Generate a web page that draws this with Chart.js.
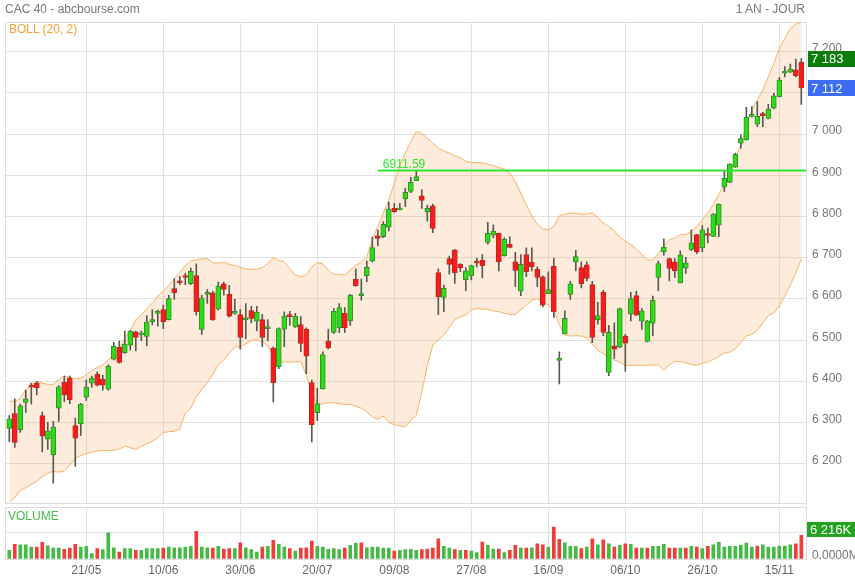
<!DOCTYPE html>
<html><head><meta charset="utf-8">
<script src="https://cdn.jsdelivr.net/npm/chart.js@4"></script>
<style>
body{margin:0;background:#fff;width:855px;height:580px;overflow:hidden;position:relative;font-family:"Liberation Sans",Arial,sans-serif}
.w{position:absolute;left:0}
.t{position:absolute;font-size:12px;line-height:14px;white-space:nowrap;z-index:5}
</style></head><body>
<div class="w" style="top:0;width:855px;height:505px"><canvas id="c1" width="855" height="505"></canvas></div>
<div class="w" style="top:505px;width:855px;height:75px"><canvas id="c2" width="855" height="75"></canvas></div>
<div class="t" style="left:5px;top:2px;color:#777">CAC 40 - abcbourse.com</div>
<div class="t" style="right:50px;top:2px;color:#777">1 AN - JOUR</div>
<div class="t" style="left:9px;top:22px;color:#f5a030">BOLL (20, 2)</div>
<div class="t" style="left:8px;top:509px;color:#44bb44">VOLUME</div>
<script>
const dates = ["03/05","04/05","05/05","06/05","07/05","10/05","11/05","12/05","13/05","14/05","17/05","18/05","19/05","20/05","21/05","24/05","25/05","26/05","27/05","28/05","31/05",
"01/06","02/06","03/06","04/06","07/06","08/06","09/06","10/06","11/06","14/06","15/06","16/06","17/06","18/06","21/06","22/06","23/06","24/06","25/06","28/06","29/06","30/06",
"01/07","02/07","05/07","06/07","07/07","08/07","09/07","12/07","13/07","14/07","15/07","16/07","19/07","20/07","21/07","22/07","23/07","26/07","27/07","28/07","29/07","30/07",
"02/08","03/08","04/08","05/08","06/08","09/08","10/08","11/08","12/08","13/08","16/08","17/08","18/08","19/08","20/08","23/08","24/08","25/08","26/08","27/08","30/08","31/08",
"01/09","02/09","03/09","06/09","07/09","08/09","09/09","10/09","13/09","14/09","15/09","16/09","17/09","20/09","21/09","22/09","23/09","24/09","27/09","28/09","29/09","30/09",
"01/10","04/10","05/10","06/10","07/10","08/10","11/10","12/10","13/10","14/10","15/10","18/10","19/10","20/10","21/10","22/10","25/10","26/10","27/10","28/10","29/10",
"01/11","02/11","03/11","04/11","05/11","08/11","09/11","10/11","11/11","12/11","15/11","16/11","17/11","18/11","19/11"];
const tickIdx = [14,28,42,56,70,84,98,112,126,140];

const openP = [6286,6322,6283,6349,6390,6396,6317,6260,6222,6335,6398,6408,6293,6297,6362,6396,6417,6405,6381,6454,6483,6470,6488,6520,
6513,6509,6545,6565,6574,6550,6625,6643,6657,6637,6657,6526,6611,6615,6576,6637,6611,6565,6562,6550,6572,6546,6550,6528,
6481,6435,6527,6562,6532,6538,6527,6397,6324,6382,6498,6519,6530,6565,6547,6648,6608,6656,6692,6753,6751,6774,6820,6816,
6843,6861,6887,6850,6812,6826,6664,6604,6698,6719,6684,6647,6656,6692,6694,6737,6755,6759,6705,6733,6690,6619,6708,6689,6672,
6654,6613,6679,6451,6515,6611,6690,6676,6683,6635,6550,6616,6422,6486,6483,6510,6563,6608,6546,6497,6541,6652,6714,6698,
6690,6639,6675,6720,6756,6724,6758,6752,6779,6871,6883,6920,6978,6986,7043,7024,7048,7038,7063,7091,7148,7150,7156,7174];
const highP = [6317,6358,6345,6379,6396,6400,6326,6301,6303,6390,6413,6413,6311,6347,6404,6413,6423,6415,6440,6495,6498,6522,6524,6522,
6522,6560,6574,6573,6585,6609,6649,6655,6663,6675,6685,6609,6623,6619,6641,6641,6633,6599,6574,6589,6582,6582,6563,6550,
6484,6530,6569,6570,6565,6557,6530,6403,6384,6472,6527,6577,6589,6579,6611,6673,6648,6692,6750,6767,6788,6835,6832,6832,
6869,6895,6911.59,6865,6828,6830,6673,6634,6704,6720,6686,6676,6682,6699,6708,6786,6780,6760,6749,6751,6713,6708,6724,6724,6678,
6656,6666,6699,6472,6571,6643,6718,6690,6690,6643,6592,6621,6536,6542,6578,6514,6616,6619,6577,6548,6607,6692,6746,6699,
6698,6717,6701,6768,6757,6778,6772,6807,6831,6912,6928,6954,6998,7065,7067,7079,7053,7072,7099,7138,7164,7170,7182,7183];
const lowP = [6254,6240,6276,6325,6345,6367,6229,6235,6153,6303,6351,6346,6194,6269,6354,6386,6389,6379,6379,6452,6444,6468,6476,6474,
6499,6487,6537,6534,6528,6549,6599,6635,6635,6635,6561,6514,6589,6548,6573,6609,6556,6563,6478,6504,6542,6523,6484,6499,
6350,6431,6484,6536,6531,6472,6419,6253,6305,6381,6478,6516,6518,6518,6536,6631,6597,6642,6690,6729,6749,6765,6810,6816,
6824,6858,6887,6820,6789,6761,6562,6569,6660,6638,6666,6620,6646,6678,6651,6733,6749,6668,6704,6724,6630,6608,6654,6668,6630,
6581,6613,6555,6394,6515,6599,6668,6627,6644,6494,6539,6511,6414,6456,6482,6424,6547,6560,6526,6496,6511,6620,6706,6644,
6652,6639,6662,6717,6710,6714,6736,6751,6751,6861,6882,6919,6966,6985,7041,7018,7018,7037,7061,7090,7139,7149,7139,7072];
const closeP = [6309,6252,6341,6358,6386,6385,6267,6280,6289,6387,6367,6355,6262,6345,6386,6408,6391,6391,6437,6485,6446,6490,6522,6507,
6516,6544,6550,6566,6545,6601,6615,6639,6652,6667,6569,6603,6612,6550,6631,6623,6558,6568,6507,6553,6553,6568,6507,6529,
6397,6528,6559,6557,6558,6492,6461,6295,6346,6465,6482,6570,6579,6530,6609,6632,6613,6677,6725,6747,6781,6818,6812,6820,
6859,6883,6897,6839,6820,6771,6605,6626,6684,6664,6676,6668,6681,6687,6681,6759,6765,6690,6745,6725,6669,6684,6666,6678,6652,
6585,6623,6569,6456,6553,6637,6703,6637,6650,6507,6560,6519,6519,6478,6577,6493,6601,6561,6571,6547,6597,6686,6726,6674,
6668,6707,6688,6736,6714,6768,6754,6806,6830,6893,6927,6951,6989,7041,7048,7043,7045,7060,7093,7131,7153,7158,7142,7112.33];

const bollUpper = [6353,6351,6359,6380,6392,6400,6396,6393,6393,6404,6413,6410,6406,6408,6416,6426,6434,6440,6452,6468,6480,6504,6524,6549,
6561,6577,6590,6607,6619,6633,6649,6665,6681,6692,6695,6697,6698,6688,6687,6690,6684,6681,6677,6673,6672,6672,6676,6686,
6700,6694,6690,6674,6658,6654,6658,6678,6688,6686,6670,6660,6660,6658,6670,6682,6689,6703,6743,6776,6808,6840,6881,6925,
6954,6982,7006,7002,6990,6978,6966,6959,6954,6947,6942,6934,6931,6931,6930,6927,6924,6919,6915,6905,6885,6857,6828,6802,6781,
6770,6768,6776,6802,6806,6808,6808,6806,6806,6809,6798,6784,6776,6765,6750,6740,6732,6722,6708,6695,6694,6710,6728,6744,
6748,6756,6756,6764,6776,6792,6810,6829,6853,6877,6905,6938,6974,7018,7059,7083,7107,7139,7172,7208,7232,7256,7267,7273];
const bollLower = [6108,6118,6136,6142,6150,6158,6169,6177,6182,6180,6182,6196,6214,6220,6225,6228,6231,6232,6232,6233,6236,6243,6239,6235,
6243,6249,6255,6263,6276,6278,6279,6285,6323,6335,6363,6380,6396,6417,6440,6452,6468,6484,6484,6491,6499,6502,6496,6486,
6462,6449,6447,6447,6447,6449,6415,6374,6342,6346,6348,6348,6346,6344,6344,6340,6335,6326,6314,6308,6316,6301,6295,6292,
6290,6306,6318,6374,6439,6488,6500,6512,6532,6549,6557,6561,6573,6577,6575,6575,6571,6569,6565,6562,6563,6573,6585,6597,6601,
6593,6585,6573,6537,6513,6510,6511,6510,6505,6490,6476,6467,6460,6452,6447,6439,6439,6439,6439,6439,6440,6440,6428,6440,
6449,6448,6445,6441,6439,6445,6447,6453,6461,6469,6471,6479,6494,6510,6514,6524,6541,6560,6566,6583,6607,6635,6663,6697];

const volumeK = [2275,3850,3763,3763,3150,3150,4375,3500,2888,2888,2538,2888,3850,3150,3325,1400,2713,2450,6913,2975,1838,
2713,2713,2275,2275,2713,2713,2713,2888,3150,2975,2975,3150,3325,7263,3150,2975,2888,3325,2625,2713,2713,4288,
2975,2450,1838,3150,3325,4900,3850,3150,2713,2100,2888,2975,4725,3325,3150,2538,2713,2450,2888,3588,4200,4288,
2975,3150,3150,2888,2888,2100,2275,2450,2538,2275,2450,2625,2888,5338,3325,2888,2450,2275,2275,2100,1663,4463,
3588,2625,2625,1663,2275,3588,2888,2888,2975,4025,3763,3150,8400,5163,4288,3325,3325,2713,3150,5338,3763,5075,
4025,3150,3588,4025,3850,2888,2888,2888,3325,3325,3850,2888,2888,2888,2888,3325,3150,2713,3325,3763,4375,
3150,3325,3325,3588,4200,3150,3413,3763,3150,3150,3413,3413,3763,4025,6216];

const priceTicks = [6200,6300,6400,6500,6600,6700,6800,6900,7000,7100,7200];
const volTicks = [0,7000];
const highLineValue = 6911.59;
const highLineStart = 67;
const markHigh = 7183;
const markLast = 7112;

const idx = closeP.map((_, i) => i);
const fmt = v => String(v).replace(/\B(?=(\d{3})+(?!\d))/g, ' ');
const FONT = '"Liberation Sans", Arial, sans-serif';
Chart.defaults.font.family = FONT;
Chart.defaults.font.size = 12;

const XMIN = -0.87, XMAX = 144.85;
const up = idx.map(i => closeP[i] >= openP[i]);
const volUp = idx.map(i => i === 0 ? up[0] : closeP[i] >= closeP[i - 1]);
const noPad = s => { s.paddingTop = 0; s.paddingBottom = 0; s.paddingLeft = 0; s.paddingRight = 0; };

function boxPlugin(id, boxes) {
  return {
    id,
    beforeDatasetsDraw(chart) {
      const {ctx, chartArea: a} = chart;
      ctx.save();
      ctx.strokeStyle = '#dcdcdc';
      ctx.lineWidth = 1;
      ctx.strokeRect(Math.round(a.left) + 0.5, Math.round(a.top) + 0.5, Math.round(a.right - a.left) - 1, Math.round(a.bottom - a.top));
      ctx.restore();
    },
    afterDraw(chart) {
      const {ctx} = chart;
      ctx.save();
      boxes(chart).forEach(b => {
        ctx.fillStyle = b.color;
        ctx.fillRect(b.x, Math.round(b.y - b.h / 2), 855 - b.x, b.h);
        ctx.fillStyle = '#fff';
        ctx.font = '13px ' + FONT;
        ctx.textBaseline = 'middle';
        ctx.textAlign = 'left';
        ctx.fillText(b.text, b.x + 3, b.y + 1);
      });
      ctx.restore();
    }
  };
}

const hlinePlugin = {
  id: 'hline',
  afterDatasetsDraw(chart) {
    const {ctx, chartArea: a, scales} = chart;
    const y = scales.y.getPixelForValue(highLineValue);
    const x0 = scales.x.getPixelForValue(highLineStart);
    ctx.save();
    ctx.strokeStyle = '#2ee62e';
    ctx.lineWidth = 2;
    ctx.beginPath();
    ctx.moveTo(x0, y);
    ctx.lineTo(a.right, y);
    ctx.stroke();
    ctx.fillStyle = '#2ee62e';
    ctx.font = '12px ' + FONT;
    ctx.textBaseline = 'alphabetic';
    ctx.fillText(highLineValue.toFixed(2), x0 + 5, y - 2.5);
    ctx.restore();
  }
};

new Chart(document.getElementById('c1'), {
  type: 'bar',
  data: {
    datasets: [
      {type: 'line', data: idx.map(i => ({x: i, y: bollUpper[i]})), borderColor: '#f8b263', borderWidth: 1, pointRadius: 0, fill: false, order: 10, tension: 0},
      {type: 'line', data: idx.map(i => ({x: i, y: bollLower[i]})), borderColor: '#f8b263', borderWidth: 1, pointRadius: 0, fill: '-1', backgroundColor: 'rgba(245,170,90,0.22)', order: 10, tension: 0},
      {data: idx.map(i => ({x: i, y: [lowP[i], highP[i]]})), backgroundColor: '#5a5a50', barThickness: 1, grouped: false, order: 3},
      {data: idx.map(i => ({x: i, y: [openP[i], closeP[i]]})),
       backgroundColor: idx.map(i => up[i] ? '#2ade16' : '#fa1c1c'),
       borderColor: idx.map(i => up[i] ? '#3d8a2c' : '#b82a22'),
       borderWidth: 1, borderSkipped: false, barThickness: 5, minBarLength: 2, grouped: false, order: 2}
    ]
  },
  options: {
    responsive: false, animation: false, events: [],
    layout: {padding: {left: 4.5, top: 22, right: 0, bottom: 2}},
    plugins: {legend: {display: false}, tooltip: {enabled: false}},
    scales: {
      x: {type: 'linear', min: XMIN, max: XMAX, offset: false,
          grid: {color: '#e2e2e2', drawTicks: false, offset: false}, border: {display: false},
          ticks: {display: false},
          afterBuildTicks: s => { s.ticks = tickIdx.map(v => ({value: v})); },
          afterFit: s => { s.height = 0; noPad(s); }},
      y: {position: 'right', min: 6105, max: 7272,
          grid: {color: '#e2e2e2', drawTicks: false}, border: {display: false},
          ticks: {color: '#777', padding: 6, labelOffset: -3, callback: v => fmt(v)},
          afterBuildTicks: s => { s.ticks = priceTicks.map(v => ({value: v})); },
          afterFit: s => { s.width = 49; noPad(s); }}
    }
  },
  plugins: [boxPlugin('boxes1', ch => [
    {x: 808, y: ch.scales.y.getPixelForValue(markHigh), h: 16, color: '#0b7d0b', text: fmt(markHigh)},
    {x: 808, y: ch.scales.y.getPixelForValue(markLast), h: 16, color: '#3b6cf3', text: fmt(markLast)}
  ]), hlinePlugin]
});

new Chart(document.getElementById('c2'), {
  type: 'bar',
  data: {
    datasets: [
      {data: idx.map(i => ({x: i, y: volumeK[i]})),
       backgroundColor: idx.map(i => volUp[i] ? '#46ba46' : '#f23c3c'),
       barThickness: 3, grouped: false}
    ]
  },
  options: {
    responsive: false, animation: false, events: [],
    layout: {padding: {left: 4.5, top: 2, right: 0, bottom: 0}},
    plugins: {legend: {display: false}, tooltip: {enabled: false}},
    scales: {
      x: {type: 'linear', min: XMIN, max: XMAX, offset: false,
          grid: {color: '#e2e2e2', drawTicks: false, offset: false}, border: {display: false},
          ticks: {color: '#666', padding: 4, autoSkip: false, maxRotation: 0, callback: v => dates[v]},
          afterBuildTicks: s => { s.ticks = tickIdx.map(v => ({value: v})); },
          afterFit: s => { s.height = 21; noPad(s); }},
      y: {position: 'right', min: 0, max: 13700,
          grid: {color: '#e2e2e2', drawTicks: false}, border: {display: false},
          ticks: {color: '#777', padding: 6, labelOffset: -3, callback: v => v === 0 ? '0.0000M' : ''},
          afterBuildTicks: s => { s.ticks = volTicks.map(v => ({value: v})); },
          afterFit: s => { s.width = 49; noPad(s); }}
    }
  },
  plugins: [boxPlugin('boxes2', ch => [
    {x: 807, y: ch.scales.y.getPixelForValue(volTicks[1]) - 3, h: 15, color: '#22a322', text: fmt(volumeK[volumeK.length - 1]) + 'K'}
  ])]
});
</script>
</body></html>
